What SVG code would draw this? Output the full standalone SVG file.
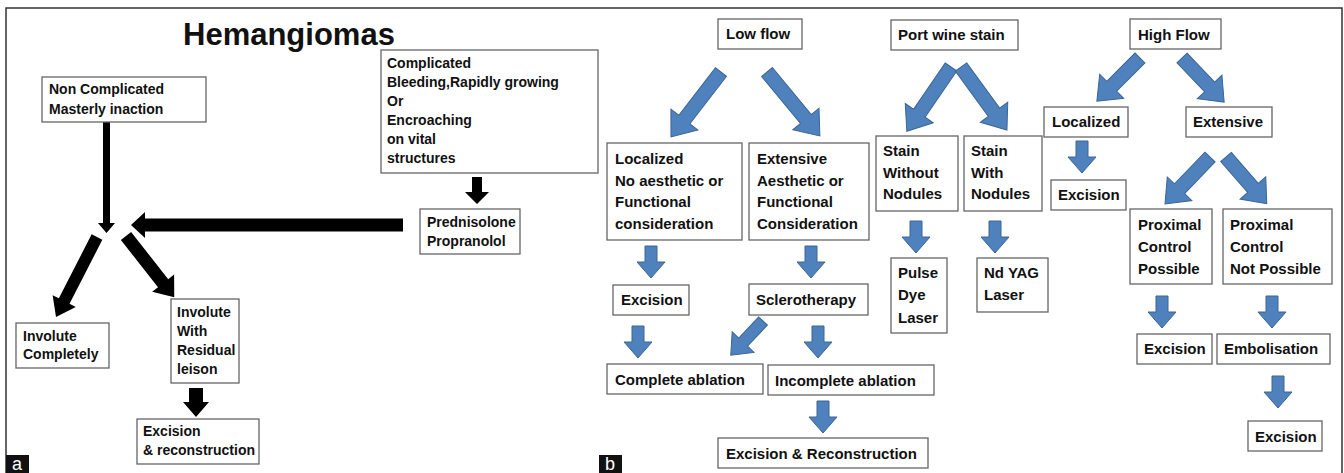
<svg xmlns="http://www.w3.org/2000/svg" xmlns:xlink="http://www.w3.org/1999/xlink" width="1344" height="473" viewBox="0 0 1344 473">
<style>
.frame{fill:none;stroke:#333;stroke-width:1.5}
.box{fill:#fff;stroke:#666;stroke-width:1.3}
.t{font-family:"Liberation Sans",Arial,sans-serif;font-weight:bold;font-size:14px;fill:#111}
.tb{font-family:"Liberation Sans",Arial,sans-serif;font-weight:bold;font-size:15px;fill:#111}
.title{font-family:"Liberation Sans",Arial,sans-serif;font-weight:bold;font-size:31px;fill:#111}
.blk{fill:#000}
.blu{fill:#4F81BD;stroke:#3A6696;stroke-width:1}
.lab{fill:#111}
.labt{font-family:"Liberation Sans",Arial,sans-serif;font-size:18px;fill:#fff}
</style>
<defs>
<path id="vArrow" d="M-6,0 H6 V16 H14 L0,32 L-14,16 H-6 Z"/>
</defs>
<rect width="1344" height="473" fill="#fff"/>
<path class="frame" d="M6,473 V8 H1342 V473"/>

<g id="label-a"><rect class="lab" x="6" y="455" width="23" height="18"/><text class="labt" x="12" y="470">a</text></g>
<g id="label-b"><rect class="lab" x="599" y="455" width="23" height="18"/><text class="labt" x="605" y="470">b</text></g>

<g id="title"><text class="title" x="183" y="45">Hemangiomas</text></g>

<g id="connectors">
  <path class="blk" d="M103,122 H110 V223 H115 L106.5,233 L98,223 H103 Z"/>
  <path class="blk" d="M403,218.5 V231.5 H145 V238 L131,225 L145,212 V218.5 Z"/>
  <path class="blk" d="M0,-6 H72 V-13 L90,0 L72,13 V6 H0 Z" transform="translate(97,237) rotate(117.1)"/>
  <path class="blk" d="M0,-6.5 H60 V-14 L78,0 L60,14 V6.5 H0 Z" transform="translate(126,236) rotate(51.8)"/>
  <path class="blk" d="M189,388 H203 V402 H209 L196,417 L183,402 H189 Z"/>
  <path class="blk" d="M472,177 H482 V192 H489 L477,204 L465,192 H472 Z"/>

  <path class="blu" d="M0,-7 H60 V-17 L82,0 L60,17 V7 H0 Z" transform="translate(721,72) rotate(127.6)"/>
  <path class="blu" d="M0,-7 H61 V-17 L83,0 L61,17 V7 H0 Z" transform="translate(767,72) rotate(50.4)"/>
  <path class="blu" d="M0,-7 H56 V-17 L78,0 L56,17 V7 H0 Z" transform="translate(951,67) rotate(124.5)"/>
  <path class="blu" d="M0,-7 H56 V-17 L78,0 L56,17 V7 H0 Z" transform="translate(961,67) rotate(53.9)"/>
  <path class="blu" d="M0,-7 H40 V-17 L61,0 L40,17 V7 H0 Z" transform="translate(1140,58) rotate(135)"/>
  <path class="blu" d="M0,-7 H40 V-17 L61,0 L40,17 V7 H0 Z" transform="translate(1182,58) rotate(46.3)"/>
  <path class="blu" d="M0,-7 H44 V-17 L65,0 L44,17 V7 H0 Z" transform="translate(1210,157) rotate(133.8)"/>
  <path class="blu" d="M0,-7 H41 V-17 L62,0 L41,17 V7 H0 Z" transform="translate(1226,157) rotate(48.9)"/>
  <path class="blu" d="M0,-6 H29 V-15 L47,0 L29,15 V6 H0 Z" transform="translate(763,321) rotate(133.3)"/>

  <use class="blu" href="#vArrow" xlink:href="#vArrow" x="651" y="246"/>
  <use class="blu" href="#vArrow" xlink:href="#vArrow" x="811" y="246"/>
  <use class="blu" href="#vArrow" xlink:href="#vArrow" x="638" y="326"/>
  <use class="blu" href="#vArrow" xlink:href="#vArrow" x="818" y="326"/>
  <use class="blu" href="#vArrow" xlink:href="#vArrow" x="823" y="401"/>
  <use class="blu" href="#vArrow" xlink:href="#vArrow" x="916" y="221"/>
  <use class="blu" href="#vArrow" xlink:href="#vArrow" x="995" y="221"/>
  <use class="blu" href="#vArrow" xlink:href="#vArrow" x="1082" y="141"/>
  <use class="blu" href="#vArrow" xlink:href="#vArrow" x="1162" y="296"/>
  <use class="blu" href="#vArrow" xlink:href="#vArrow" x="1272" y="296"/>
  <use class="blu" href="#vArrow" xlink:href="#vArrow" x="1278" y="376"/>
</g>

<g id="n-noncomp"><rect class="box" x="42" y="77" width="164" height="45"/><text class="t"><tspan x="49" y="94">Non Complicated</tspan><tspan x="49" y="114">Masterly inaction</tspan></text></g>
<g id="n-comp"><rect class="box" x="381" y="50" width="217" height="123"/><text class="t"><tspan x="387" y="68">Complicated</tspan><tspan x="387" y="87">Bleeding,Rapidly growing</tspan><tspan x="387" y="106">Or</tspan><tspan x="387" y="125">Encroaching</tspan><tspan x="387" y="144">on vital</tspan><tspan x="387" y="163">structures</tspan></text></g>
<g id="n-pred"><rect class="box" x="420" y="209" width="100" height="45"/><text class="t"><tspan x="427" y="227">Prednisolone</tspan><tspan x="427" y="246">Propranolol</tspan></text></g>
<g id="n-invc"><rect class="box" x="16" y="323" width="93" height="45"/><text class="t"><tspan x="23" y="341">Involute</tspan><tspan x="23" y="359">Completely</tspan></text></g>
<g id="n-invr"><rect class="box" x="171" y="299" width="68" height="84"/><text class="t"><tspan x="177" y="317">Involute</tspan><tspan x="177" y="336">With</tspan><tspan x="177" y="355">Residual</tspan><tspan x="177" y="374">leison</tspan></text></g>
<g id="n-exrec"><rect class="box" x="137" y="419" width="122" height="45"/><text class="t"><tspan x="143" y="436">Excision</tspan><tspan x="143" y="455">&amp; reconstruction</tspan></text></g>

<g id="n-lowflow"><rect class="box" x="718" y="19" width="84" height="30"/><text class="tb" x="726" y="39">Low flow</text></g>
<g id="n-lf-local"><rect class="box" x="607" y="143" width="135" height="97"/><text class="tb"><tspan x="615" y="164">Localized</tspan><tspan x="615" y="186">No aesthetic or</tspan><tspan x="615" y="207">Functional</tspan><tspan x="615" y="229">consideration</tspan></text></g>
<g id="n-lf-ext"><rect class="box" x="749" y="143" width="120" height="97"/><text class="tb"><tspan x="757" y="164">Extensive</tspan><tspan x="757" y="186">Aesthetic or</tspan><tspan x="757" y="207">Functional</tspan><tspan x="757" y="229">Consideration</tspan></text></g>
<g id="n-lf-excision"><rect class="box" x="613" y="285" width="76" height="30"/><text class="tb" x="621" y="305">Excision</text></g>
<g id="n-sclero"><rect class="box" x="749" y="284" width="119" height="31"/><text class="tb" x="756" y="305">Sclerotherapy</text></g>
<g id="n-complete"><rect class="box" x="607" y="364" width="156" height="30"/><text class="tb" x="615" y="385">Complete ablation</text></g>
<g id="n-incomplete"><rect class="box" x="768" y="365" width="166" height="30"/><text class="tb" x="775" y="386">Incomplete ablation</text></g>
<g id="n-exrec2"><rect class="box" x="718" y="438" width="210" height="30"/><text class="tb" x="726" y="459">Excision &amp; Reconstruction</text></g>

<g id="n-pws"><rect class="box" x="891" y="20" width="127" height="30"/><text class="tb" x="898" y="40">Port wine stain</text></g>
<g id="n-without"><rect class="box" x="876" y="136" width="82" height="75"/><text class="tb"><tspan x="883" y="156">Stain</tspan><tspan x="883" y="178">Without</tspan><tspan x="883" y="199">Nodules</tspan></text></g>
<g id="n-with"><rect class="box" x="964" y="136" width="78" height="75"/><text class="tb"><tspan x="971" y="156">Stain</tspan><tspan x="971" y="178">With</tspan><tspan x="971" y="199">Nodules</tspan></text></g>
<g id="n-pdl"><rect class="box" x="891" y="258" width="56" height="75"/><text class="tb"><tspan x="898" y="278">Pulse</tspan><tspan x="898" y="300">Dye</tspan><tspan x="898" y="323">Laser</tspan></text></g>
<g id="n-ndyag"><rect class="box" x="977" y="258" width="71" height="54"/><text class="tb"><tspan x="984" y="278">Nd YAG</tspan><tspan x="984" y="300">Laser</tspan></text></g>

<g id="n-highflow"><rect class="box" x="1130" y="19" width="91" height="30"/><text class="tb" x="1138" y="40">High Flow</text></g>
<g id="n-hf-local"><rect class="box" x="1044" y="107" width="84" height="30"/><text class="tb" x="1052" y="127">Localized</text></g>
<g id="n-hf-ext"><rect class="box" x="1186" y="107" width="86" height="30"/><text class="tb" x="1193" y="127">Extensive</text></g>
<g id="n-hf-excision"><rect class="box" x="1051" y="180" width="75" height="30"/><text class="tb" x="1058" y="200">Excision</text></g>
<g id="n-pcp"><rect class="box" x="1130" y="209" width="82" height="75"/><text class="tb"><tspan x="1138" y="230">Proximal</tspan><tspan x="1138" y="252">Control</tspan><tspan x="1138" y="274">Possible</tspan></text></g>
<g id="n-pcnp"><rect class="box" x="1223" y="209" width="109" height="75"/><text class="tb"><tspan x="1230" y="230">Proximal</tspan><tspan x="1230" y="252">Control</tspan><tspan x="1230" y="274">Not Possible</tspan></text></g>
<g id="n-pcp-excision"><rect class="box" x="1137" y="334" width="75" height="30"/><text class="tb" x="1144" y="354">Excision</text></g>
<g id="n-embol"><rect class="box" x="1217" y="334" width="113" height="30"/><text class="tb" x="1224" y="354">Embolisation</text></g>
<g id="n-embol-excision"><rect class="box" x="1248" y="421" width="74" height="30"/><text class="tb" x="1255" y="442">Excision</text></g>
</svg>
